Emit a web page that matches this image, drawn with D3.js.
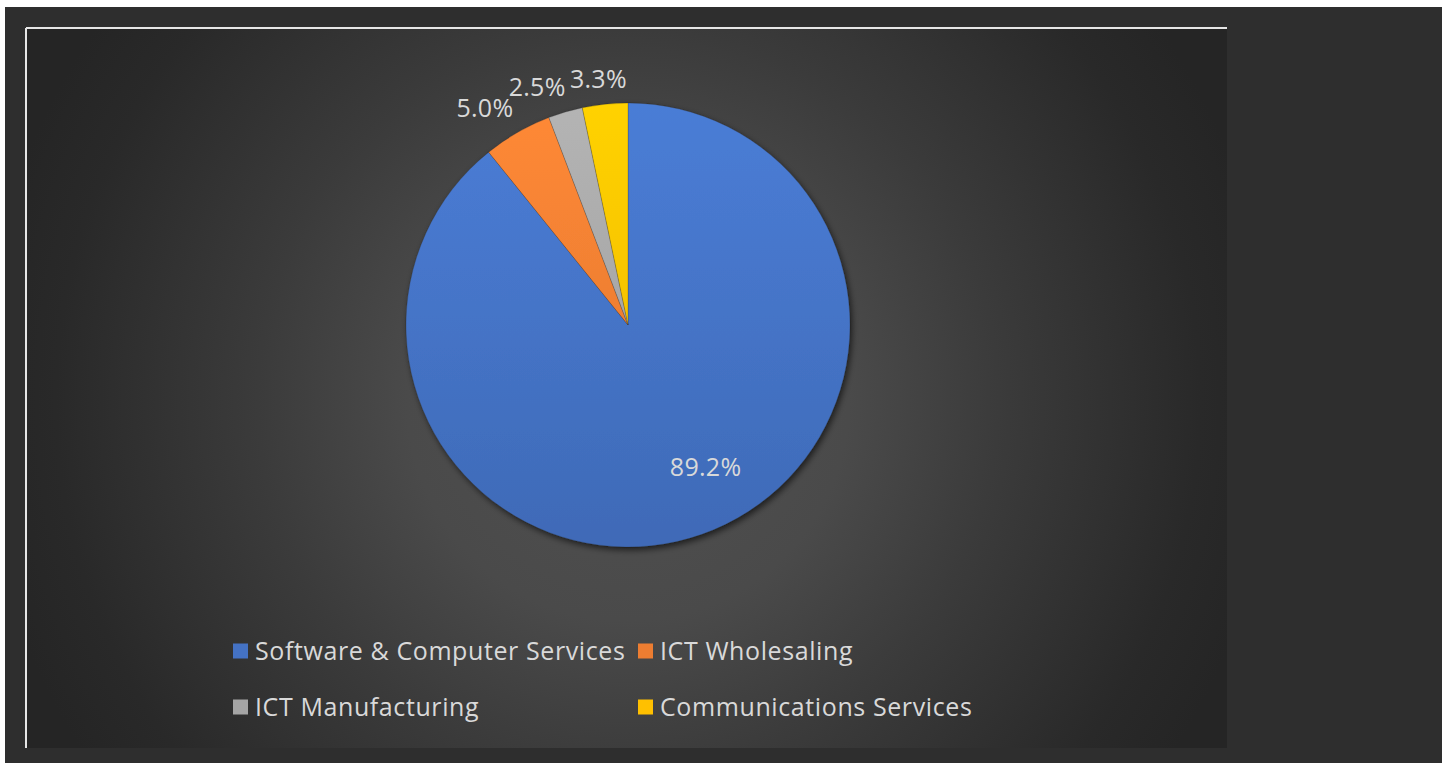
<!DOCTYPE html>
<html>
<head>
<meta charset="utf-8">
<script src="https://cdn.jsdelivr.net/npm/d3@7"></script>
<style>
  html, body { margin: 0; padding: 0; background: #ffffff; }
  svg { display: block; }
</style>
</head>
<body>
<div id="chart"></div>
<script>
// chart data
const categories = ["Software & Computer Services", "ICT Wholesaling", "ICT Manufacturing", "Communications Services"];
const shares = [89.2, 5.0, 2.5, 3.3];
const sliceColors = ["#4472c4", "#ed7d31", "#a5a5a5", "#ffc000"];

const width = 1450, height = 763;
const center = { x: 628, y: 325 };
const radius = 222;
const fontFamily = "'Open Sans', 'Noto Sans', sans-serif";

const svg = d3.select("#chart")
    .append("svg")
    .attr("width", width)
    .attr("height", height);

const defs = svg.append("defs");

// radial background like the excel chart area
const bg = defs.append("radialGradient")
    .attr("id", "bg-grad")
    .attr("gradientUnits", "userSpaceOnUse")
    .attr("cx", 628).attr("cy", 400).attr("r", 650);
[[0, "#515151"], [0.34, "#4a4a4a"], [0.57, "#3b3b3b"], [0.88, "#292929"], [1, "#252525"]]
    .forEach(s => bg.append("stop").attr("offset", s[0]).attr("stop-color", s[1]));

// drop shadow under the pie
const shadow = defs.append("filter")
    .attr("id", "pie-shadow")
    .attr("x", "-20%").attr("y", "-20%").attr("width", "140%").attr("height", "140%");
shadow.append("feDropShadow")
    .attr("dx", 2).attr("dy", 3)
    .attr("stdDeviation", 3)
    .attr("flood-color", "#000")
    .attr("flood-opacity", 0.6);

// vertical gradient per slice colour
sliceColors.forEach((c, i) => {
    const g = defs.append("linearGradient")
        .attr("id", "slice-grad-" + i)
        .attr("gradientUnits", "userSpaceOnUse")
        .attr("x1", 0).attr("y1", -radius)
        .attr("x2", 0).attr("y2", radius);
    g.append("stop").attr("offset", 0).attr("stop-color", d3.color(c).brighter(0.25));
    g.append("stop").attr("offset", 1).attr("stop-color", d3.color(c).darker(0.2));
});

// outer dark panel
svg.append("rect")
    .attr("x", 5).attr("y", 7)
    .attr("width", 1437).attr("height", height - 7)
    .attr("fill", "#2e2e2e");

// chart area
svg.append("rect")
    .attr("x", 27).attr("y", 29)
    .attr("width", 1200).attr("height", 719)
    .attr("fill", "url(#bg-grad)");

svg.append("line")
    .attr("x1", 26).attr("y1", 28).attr("x2", 1227).attr("y2", 28)
    .attr("stroke", "#e6e6e6").attr("stroke-width", 2);
svg.append("line")
    .attr("x1", 26).attr("y1", 28).attr("x2", 26).attr("y2", 748)
    .attr("stroke", "#e6e6e6").attr("stroke-width", 2);

// pie
const pieData = d3.pie()
    .sort(null)
    .value(d => d)(shares);
const total = d3.sum(shares);
const pct = d3.format(".1%");

const arc = d3.arc().innerRadius(0).outerRadius(radius);

const pieG = svg.append("g")
    .attr("transform", "translate(" + center.x + "," + center.y + ")");

pieG.append("g")
    .attr("filter", "url(#pie-shadow)")
    .selectAll("path")
    .data(pieData)
    .enter().append("path")
    .attr("d", arc)
    .attr("fill", (d, i) => "url(#slice-grad-" + i + ")")
    .attr("stroke", "rgba(40,40,40,0.35)")
    .attr("stroke-width", 0.6);

// labels
const labelG = pieG.append("g")
    .attr("font-family", fontFamily)
    .attr("font-size", 25)
    .attr("letter-spacing", 0.3)
    .attr("fill", "#d9d9d9");

pieData.forEach((d, i) => {
    const mid = (d.startAngle + d.endAngle) / 2;
    const label = pct(d.value / total);
    if (d.endAngle - d.startAngle > Math.PI / 2) {
        // big slice: inside label
        const a = mid - 0.16;
        const rr = radius * 0.73;
        labelG.append("text")
            .attr("x", rr * Math.sin(a))
            .attr("y", -rr * Math.cos(a))
            .attr("text-anchor", "middle")
            .attr("dy", "0.35em")
            .text(label);
    } else {
        // small slice: outside end, slide the label sideways with the angle
        const rr = radius + 8;
        const s = Math.sin(mid);
        const px = rr * s;
        const py = -rr * Math.cos(mid);
        const t = labelG.append("text").text(label);
        const w = t.node().getComputedTextLength();
        const k = Math.sign(s) * Math.min(1, Math.pow(Math.abs(s) / 0.3, 1.5));
        t.attr("x", px + (w / 2) * k)
            .attr("y", py - 8.5)
            .attr("text-anchor", "middle");
    }
});

// legend
const legendItems = [
    { x: 233, y: 651 },
    { x: 638, y: 651 },
    { x: 233, y: 707 },
    { x: 638, y: 707 }
];
const legend = svg.append("g")
    .attr("font-family", fontFamily)
    .attr("font-size", 25)
    .attr("letter-spacing", 0.6)
    .attr("fill", "#d9d9d9");

categories.forEach((c, i) => {
    const pos = legendItems[i];
    legend.append("rect")
        .attr("x", pos.x).attr("y", pos.y - 7.5)
        .attr("width", 15).attr("height", 15)
        .attr("fill", sliceColors[i]);
    legend.append("text")
        .attr("x", pos.x + 22)
        .attr("y", pos.y)
        .attr("dy", "0.35em")
        .text(c);
});
</script>
</body>
</html>
